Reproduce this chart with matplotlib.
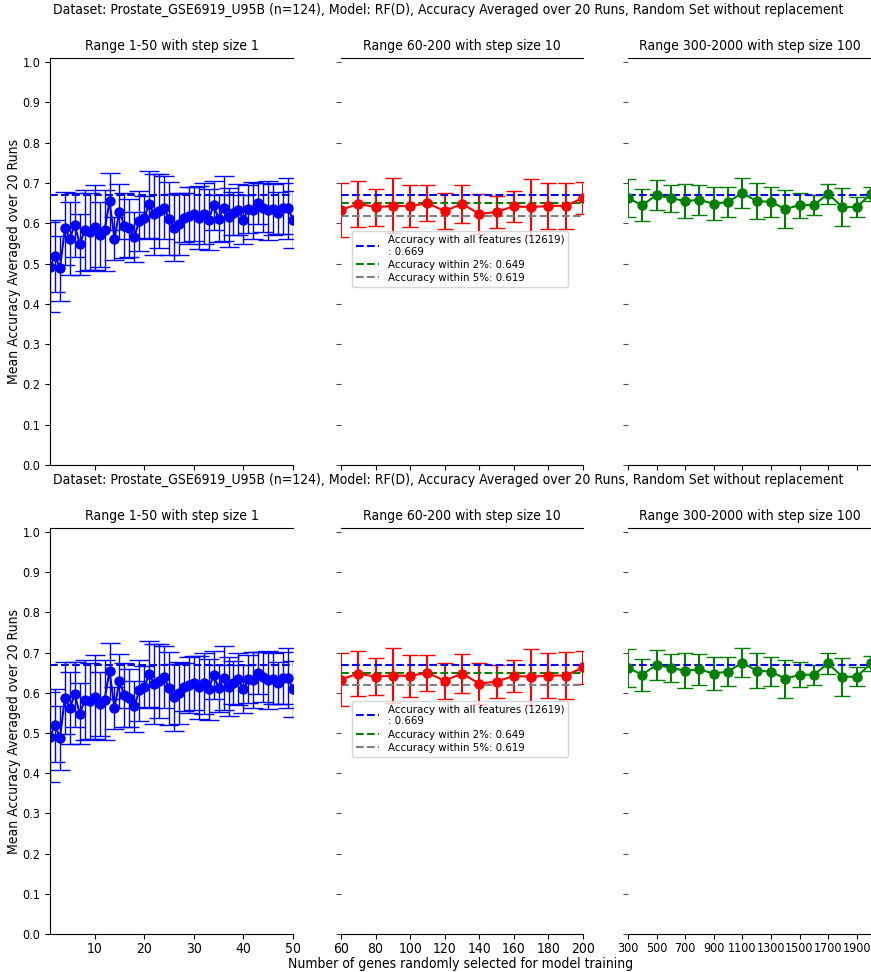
import matplotlib
matplotlib.use("Agg")
import matplotlib.pyplot as plt
from matplotlib import font_manager

# Datos
x1 = list(range(1, 51))
mean1 = [0.491, 0.519, 0.488, 0.587, 0.562, 0.596, 0.548, 0.582, 0.579, 0.590,
         0.572, 0.582, 0.654, 0.562, 0.629, 0.594, 0.587, 0.566, 0.606, 0.614,
         0.647, 0.622, 0.630, 0.639, 0.611, 0.589, 0.599, 0.614, 0.619, 0.624,
         0.614, 0.624, 0.609, 0.644, 0.611, 0.637, 0.615, 0.625, 0.634, 0.609,
         0.635, 0.632, 0.649, 0.639, 0.632, 0.635, 0.625, 0.637, 0.637, 0.609]
std1 = [0.112, 0.090, 0.080, 0.090, 0.090, 0.080, 0.076, 0.100, 0.095, 0.105,
        0.080, 0.100, 0.070, 0.053, 0.068, 0.080, 0.072, 0.063, 0.075, 0.053,
        0.083, 0.100, 0.092, 0.077, 0.091, 0.083, 0.077, 0.060, 0.070, 0.067,
        0.078, 0.076, 0.076, 0.060, 0.058, 0.080, 0.073, 0.053, 0.064, 0.060,
        0.060, 0.070, 0.052, 0.062, 0.073, 0.063, 0.052, 0.064, 0.075, 0.070]

x2 = list(range(60, 201, 10))
mean2 = [0.633, 0.648, 0.640, 0.643, 0.642, 0.650, 0.630, 0.648, 0.623, 0.628,
         0.642, 0.640, 0.643, 0.643, 0.663]
std2 = [0.067, 0.057, 0.046, 0.068, 0.052, 0.045, 0.045, 0.048, 0.050, 0.040,
        0.039, 0.070, 0.057, 0.058, 0.040]

x3 = list(range(300, 2001, 100))
mean3 = [0.662, 0.645, 0.670, 0.662, 0.655, 0.658, 0.648, 0.653, 0.675, 0.655,
         0.653, 0.635, 0.645, 0.645, 0.673, 0.640, 0.640, 0.673]
std3 = [0.047, 0.040, 0.037, 0.034, 0.043, 0.038, 0.041, 0.037, 0.036, 0.044,
        0.037, 0.047, 0.031, 0.025, 0.025, 0.047, 0.024, 0.018]

acc_all = 0.669
acc_2 = 0.649
acc_5 = 0.619
n_features = 12619

titulo = ("Dataset: Prostate_GSE6919_U95B (n=124), Model: RF(D), "
          "Accuracy Averaged over 20 Runs, Random Set without replacement")

# el original se ve comprimido en horizontal: buscar DejaVu Sans Condensed
condensada = [f for f in font_manager.fontManager.ttflist
              if 'Condensed' in f.fname and 'DejaVuSans' in f.fname
              and 'Bold' not in f.fname and 'Oblique' not in f.fname]
if condensada:
    plt.rcParams['font.family'] = [condensada[0].name]
    plt.rcParams['font.stretch'] = 'condensed'
    fs = 10
else:
    fs = 9
plt.rcParams['font.size'] = fs

W, H = 871, 972
fig = plt.figure(figsize=(W / 100, H / 100), dpi=100)

lefts = [50 / W, 341 / W, 628 / W]
widths = [243 / W, 242 / W, 243 / W]
rows = [(1 - 465 / H, 407 / H), (1 - 934 / H, 406 / H)]

paneles = [
    (x1, mean1, std1, 'blue', (1, 50), list(range(10, 51, 10)), "Range 1-50 with step size 1"),
    (x2, mean2, std2, 'red', (60, 200), list(range(60, 201, 20)), "Range 60-200 with step size 10"),
    (x3, mean3, std3, 'green', (300, 2000), list(range(300, 2000, 200)), "Range 300-2000 with step size 100"),
]

for r, (bottom, height) in enumerate(rows):
    for i, (xs, ms, ss, col, lim, ticks, name) in enumerate(paneles):
        ax = fig.add_axes([lefts[i], bottom, widths[i], height])
        if i == 0:
            ax.errorbar(xs, ms, yerr=ss, fmt='-o', color=col, ecolor=col,
                        capsize=7, markersize=6.5, linewidth=1.5, elinewidth=1)
        else:
            ax.errorbar(xs, ms, yerr=ss, fmt='-o', color=col, ecolor=col,
                        capsize=6, markersize=6.5, linewidth=1.5, elinewidth=1.5)
        ax.axhline(acc_all, color='blue', linestyle='--', linewidth=1.5,
                   label=f"Accuracy with all features ({n_features})\n: {acc_all}")
        if i == 1:
            ax.axhline(acc_2, color='green', linestyle='--', linewidth=1.5,
                       label=f"Accuracy within 2%: {acc_2}")
            ax.axhline(acc_5, color='gray', linestyle='--', linewidth=1.5,
                       label=f"Accuracy within 5%: {acc_5}")
            ax.legend(loc='upper left', bbox_to_anchor=(0.045, 0.575),
                      borderaxespad=0, fontsize=fs * 0.82, labelspacing=0.3,
                      borderpad=0.35)
        ax.set_xlim(*lim)
        ax.set_ylim(0, 1.01)
        ax.set_yticks([k / 10 for k in range(11)])
        ax.set_xticks(ticks)
        ax.set_title(name, fontsize=fs)
        ax.spines['right'].set_visible(False)
        ax.tick_params(axis='y', labelsize=fs * 0.9)
        ax.tick_params(axis='x', pad=2.5)
        if i == 2:
            ax.tick_params(axis='x', labelsize=fs * 0.9)
        if i == 0:
            ax.set_ylabel("Mean Accuracy Averaged over 20 Runs")
            ax.yaxis.set_label_coords(-0.118, 0.5)
        else:
            ax.spines['left'].set_visible(False)
            ax.tick_params(axis='y', labelleft=False, color='0.3')
        if r == 0:
            ax.tick_params(axis='x', labelbottom=False)

fig.text(448 / W, 1 - 10 / H, titulo, ha='center', va='center', fontsize=fs)
fig.text(448 / W, 1 - 480 / H, titulo, ha='center', va='center', fontsize=fs)
fig.text(461 / W, 1 - 964 / H, "Number of genes randomly selected for model training",
         ha='center', va='center', fontsize=fs)

fig.savefig("out.png", dpi=100)
